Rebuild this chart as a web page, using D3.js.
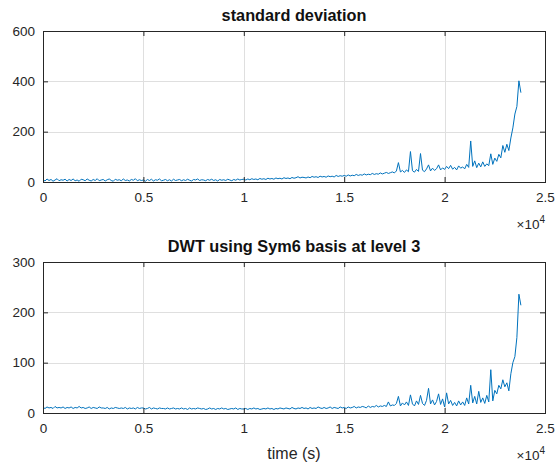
<!DOCTYPE html>
<html>
<head>
<meta charset="utf-8">
<script src="https://cdn.jsdelivr.net/npm/d3@7"></script>
<style>
  body { margin: 0; background: #fff; }
  text { font-family: "Liberation Sans", Arial, sans-serif; }
</style>
</head>
<body>
<script>
// sample spacing of both series (seconds)
const step = 100;

// standard deviation, one value per 100 s
const stdValues = [
  9,4,12,6,10,3,8,13,5,9,
  7,11,4,10,6,12,5,8,3,11,
  9,5,12,7,4,10,6,13,5,8,
  10,4,9,12,6,3,11,7,9,5,
  12,6,8,4,10,7,13,5,9,6,
  8,3,10,6,11,4,9,7,12,5,
  7,10,5,9,4,11,6,8,10,5,
  9,6,11,7,4,10,8,12,6,9,
  8,5,10,7,11,6,9,4,10,7,
  9,6,11,8,5,10,7,12,8,10,
  11,8,12,9,13,10,12,9,14,11,
  13,10,15,12,14,11,16,13,15,12,
  17,14,16,13,18,15,17,21,16,19,
  18,16,20,17,22,19,21,18,23,20,
  22,19,24,21,23,20,26,22,25,23,
  26,23,28,24,27,25,30,26,29,27,
  32,28,31,29,34,30,33,31,36,32,
  35,38,34,37,40,
  36,44,77,40,46,38,48,41,121,45,
  39,50,42,113,47,41,52,68,44,55,
  46,53,68,48,56,
  50,62,53,66,51,58,48,64,55,60,
  52,70,58,163,62,84,57,75,60,80,
  62,72,65,112,70,
  95,82,110,96,145,118,150,125,175,215,
  270,300,402,355
];

// DWT (Sym6, level 3), one value per 100 s
const dwtValues = [
  11,9,12,10,11,9,13,10,11,10,
  12,9,11,10,12,9,11,10,13,10,
  11,9,10,12,9,11,10,9,12,10,
  10,9,11,8,10,9,11,10,9,10,
  9,11,8,10,9,10,8,11,9,10,
  10,8,9,11,8,10,9,8,10,9,
  9,8,10,8,9,10,8,9,8,10,
  8,9,7,10,8,9,8,10,9,8,
  9,7,8,10,8,9,7,9,8,10,
  8,9,7,8,9,8,10,7,9,8,
  8,9,7,9,8,10,8,9,7,8,
  9,8,10,8,9,7,9,8,10,9,
  8,10,9,8,11,9,8,10,9,11,
  9,10,8,11,9,10,9,12,10,9,
  11,9,10,12,9,11,10,9,12,10,
  11,9,12,10,11,13,10,12,11,13,
  12,10,14,11,13,12,15,12,14,13,
  15,13,22,14,16,
  15,19,33,14,20,16,22,15,36,18,
  14,24,17,35,19,15,25,49,18,26,
  16,23,38,17,28,
  12,40,18,25,15,21,14,24,16,22,
  15,30,18,55,20,33,18,43,21,30,
  19,35,22,86,24,
  45,38,55,48,66,52,60,44,78,100,
  112,150,236,214
];

const xTicks = [0, 5000, 10000, 15000, 20000, 25000];
const xTickLabels = ["0", "0.5", "1", "1.5", "2", "2.5"];
const stdTicks = [0, 200, 400, 600];
const dwtTicks = [0, 100, 200, 300];

const W = 556, H = 463;
const ink = "#262626";
const gridColor = "#dfdfdf";
const lineColor = "#0072bd";

const svg = d3.select("body").append("svg")
    .attr("width", W)
    .attr("height", H);

const x = d3.scaleLinear().domain([0, 25000]).range([43, 545]);

function panel(values, yTicks, top, bottom, title, xlabel) {
  const y = d3.scaleLinear().domain([0, yTicks[yTicks.length - 1]]).range([bottom, top]);
  const g = svg.append("g");

  // grid
  g.append("g").selectAll("line")
    .data(xTicks.slice(1, -1))
    .join("line")
      .attr("x1", d => Math.round(x(d)) + 0.5)
      .attr("x2", d => Math.round(x(d)) + 0.5)
      .attr("y1", top).attr("y2", bottom)
      .attr("stroke", gridColor);
  g.append("g").selectAll("line")
    .data(yTicks.slice(1, -1))
    .join("line")
      .attr("y1", d => Math.round(y(d)) + 0.5)
      .attr("y2", d => Math.round(y(d)) + 0.5)
      .attr("x1", x.range()[0]).attr("x2", x.range()[1])
      .attr("stroke", gridColor);

  // data
  const line = d3.line()
      .x((d, i) => x(i * step))
      .y(d => y(d));
  g.append("path")
      .datum(values)
      .attr("fill", "none")
      .attr("stroke", lineColor)
      .attr("stroke-width", 1)
      .attr("d", line);

  // axes with inside ticks on all four sides
  g.append("g")
      .attr("transform", `translate(0,${bottom})`)
      .call(d3.axisBottom(x).tickValues(xTicks)
        .tickFormat((d, i) => xTickLabels[i])
        .tickSizeInner(-5).tickSizeOuter(0).tickPadding(10));
  g.append("g")
      .attr("transform", `translate(0,${top})`)
      .call(d3.axisTop(x).tickValues(xTicks).tickFormat("")
        .tickSizeInner(-5).tickSizeOuter(0));
  g.append("g")
      .attr("transform", `translate(${x.range()[0]},0)`)
      .call(d3.axisLeft(y).tickValues(yTicks)
        .tickSizeInner(-5).tickSizeOuter(0).tickPadding(8));
  g.append("g")
      .attr("transform", `translate(${x.range()[1]},0)`)
      .call(d3.axisRight(y).tickValues(yTicks).tickFormat("")
        .tickSizeInner(-5).tickSizeOuter(0));

  g.selectAll(".domain").remove();
  g.selectAll(".tick line").attr("stroke", ink);
  g.selectAll(".tick text")
      .attr("fill", ink)
      .style("font-size", "13.5px")
      .style("font-family", "'Liberation Sans', Arial, sans-serif");

  // box
  g.append("rect")
      .attr("x", x.range()[0] + 0.5)
      .attr("y", top + 0.5)
      .attr("width", x.range()[1] - x.range()[0])
      .attr("height", bottom - top)
      .attr("fill", "none")
      .attr("stroke", ink)
      .attr("stroke-width", 1);

  // title
  g.append("text")
      .attr("x", (x.range()[0] + x.range()[1]) / 2)
      .attr("y", top - 10)
      .attr("text-anchor", "middle")
      .attr("font-weight", "bold")
      .attr("font-size", "16.3px")
      .attr("fill", "#111")
      .text(title);

  // x exponent
  const ex = g.append("text")
      .attr("x", x.range()[1])
      .attr("y", bottom + 47)
      .attr("text-anchor", "end")
      .attr("font-size", "13.5px")
      .attr("fill", ink);
  ex.append("tspan").text("\u00d710");
  ex.append("tspan").attr("dy", -6).attr("font-size", "10px").text("4");

  if (xlabel) {
    g.append("text")
        .attr("x", (x.range()[0] + x.range()[1]) / 2)
        .attr("y", bottom + 46)
        .attr("text-anchor", "middle")
        .attr("font-size", "16px")
        .attr("fill", ink)
        .text(xlabel);
  }
}

panel(stdValues, stdTicks, 31, 182, "standard deviation", null);
panel(dwtValues, dwtTicks, 262, 413, "DWT using Sym6 basis at level 3", "time (s)");
</script>
</body>
</html>
